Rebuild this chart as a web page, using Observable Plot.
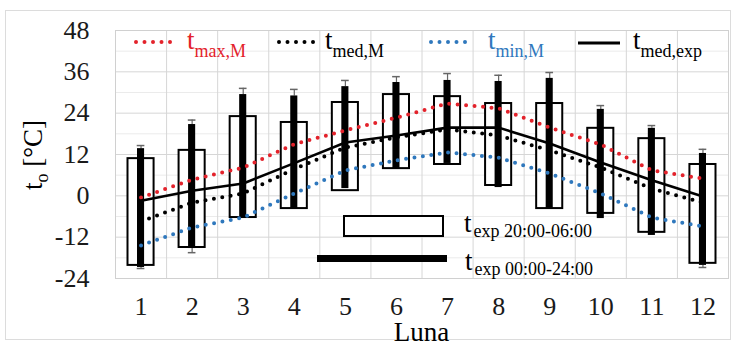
<!DOCTYPE html>
<html><head><meta charset="utf-8">
<script src="https://cdn.jsdelivr.net/npm/d3@7"></script>
<script src="https://cdn.jsdelivr.net/npm/@observablehq/plot@0.6"></script>
<style>
body{margin:0;background:#fff;}
#wrap{position:relative;width:735px;height:347px;font-family:"Liberation Serif","Times New Roman",serif;overflow:hidden;background:#fff;}
#border{position:absolute;left:5px;top:10px;width:726px;height:330px;border:1px solid #dcdcdc;box-sizing:border-box;}
.lbl{position:absolute;white-space:nowrap;line-height:1;font-size:27px;color:#000;}
.lbl sub{font-size:18px;vertical-align:baseline;position:relative;}
#chart{position:absolute;left:0;top:0;}
#chart svg, #chart svg text{font-family:"Liberation Serif","Times New Roman",serif !important;}
#leg{position:absolute;left:0;top:0;}
</style></head><body>
<div id="wrap"><div id="border"></div><div id="chart"></div></div>
<script>
// ---- data ----
const months = [1,2,3,4,5,6,7,8,9,10,11,12];
// t_exp 20:00-06:00 (white floating bars)
const nightMin = [-20.2,-15,-6.3,-3.7,1.5,7.9,9.1,3,-3.7,-5.1,-10.6,-19.6];
const nightMax = [10.8,13.2,23,21.3,27.1,29.4,28.8,26.8,26.8,19.6,16.6,9.1];
// t_exp 00:00-24:00 (black floating bars)
const dayMin = [-20.8,-15.3,-6.3,-3.7,2.1,7.9,9.4,2.4,-3.7,-6.6,-11.5,-20.2];
const dayMax = [13.7,20.7,29.4,29,31.7,32.9,33.5,33.2,34.1,25.1,19.6,12.3];
// error bar ends
const errHi = [14.6,22,31.2,30.9,33.5,34.6,35.5,35,35.8,26.2,20.4,13.5];
const errLo = [-21.1,-16.5,null,null,null,null,null,null,null,null,null,-20.8];
// lines
const tMaxM  = [-0.5,4.7,8.2,15,19,22.7,26.8,25.4,19.8,14.9,7.4,5];
const tMedM  = [-7.4,-2,0.7,7.8,14,17,19.3,17.5,13.2,8.2,2.1,-2];
const tMinM  = [-14.4,-9.2,-6.3,0.7,7.4,10.3,12.6,11.1,6.5,0.7,-6.3,-8.9];
const tMedExp= [-1.4,1.5,3.6,9.5,15.5,17.5,19.8,19.8,15.2,9.7,4.5,-0.2];
// ticks
const yTicks = [-24,-12,0,12,24,36,48];
const yMinor = [-18,-6,6,18,30,42];

const rows = months.map((m,i)=>({m, nMin:nightMin[i], nMax:nightMax[i], dMin:dayMin[i], dMax:dayMax[i],
  eHi:errHi[i], eLo:errLo[i], tmax:tMaxM[i], tmed:tMedM[i], tmin:tMinM[i], texp:tMedExp[i]}));
const xBounds = months.map(m=>m-0.5).concat([months[months.length-1]+0.5]);

const RED="#e3222b", BLUE="#2f78bd";
const dotted = {strokeWidth:4, strokeDasharray:"0,8.5", strokeLinecap:"round"};
const SERIF = "'Liberation Serif','Times New Roman',serif";

const chart = Plot.plot({
  width:735, height:347,
  marginLeft:115, marginRight:7, marginTop:30, marginBottom:69,
  style:{fontFamily:SERIF, fontSize:"26px", color:"#1a1a1a", background:"transparent"},
  x:{domain:[0.5,12.5], ticks:months, tickSize:0, tickPadding:18, label:null, tickFormat:d=>String(d)},
  y:{domain:[-24,48], ticks:yTicks, tickSize:0, tickPadding:26, label:null, tickFormat:d=>String(d)},
  marks:[
    Plot.gridY(yMinor,{stroke:"#ebebeb", strokeOpacity:1}),
    Plot.gridY(yTicks,{stroke:"#d6d6d6", strokeOpacity:1}),
    Plot.gridX(xBounds,{stroke:"#d6d6d6", strokeOpacity:1}),
    Plot.frame({stroke:"#d0d0d0"}),
    Plot.rectY(rows,{x1:d=>d.m-0.5, x2:d=>d.m+0.5, y1:"nMin", y2:"nMax", fill:"white", stroke:"black", strokeWidth:2, insetLeft:12.5, insetRight:12.5}),
    Plot.ruleX(rows,{x:"m", y1:"dMax", y2:"eHi", stroke:"#666", strokeWidth:1.2}),
    Plot.ruleY(rows,{y:"eHi", x1:d=>d.m-0.075, x2:d=>d.m+0.075, stroke:"#666", strokeWidth:1.5}),
    Plot.ruleX(rows.filter(d=>d.eLo!=null),{x:"m", y1:"dMin", y2:"eLo", stroke:"#666", strokeWidth:1.2}),
    Plot.ruleY(rows.filter(d=>d.eLo!=null),{y:"eLo", x1:d=>d.m-0.075, x2:d=>d.m+0.075, stroke:"#666", strokeWidth:1.5}),
    Plot.rectY(rows,{x1:d=>d.m-0.5, x2:d=>d.m+0.5, y1:"dMin", y2:"dMax", fill:"black", insetLeft:22, insetRight:22}),
    Plot.line(rows,{x:"m", y:"tmax", stroke:RED, ...dotted}),
    Plot.line(rows,{x:"m", y:"tmed", stroke:"black", ...dotted}),
    Plot.line(rows,{x:"m", y:"tmin", stroke:BLUE, ...dotted}),
    Plot.line(rows,{x:"m", y:"texp", stroke:"black", strokeWidth:2.6})
  ]
});
chart.querySelectorAll("text").forEach(t=>t.setAttribute("font-family",SERIF));
document.getElementById("chart").appendChild(chart);

// ---- legend / titles overlay ----
const wrap = document.getElementById("wrap");
const NS="http://www.w3.org/2000/svg";
const leg = document.createElementNS(NS,"svg");
leg.setAttribute("id","leg"); leg.setAttribute("width",735); leg.setAttribute("height",347);
function el(tag, attrs){const e=document.createElementNS(NS,tag); for(const k in attrs) e.setAttribute(k,attrs[k]); leg.appendChild(e); return e;}
const dl = {"stroke-width":4,"stroke-dasharray":"0,8.5","stroke-linecap":"round"};
el("line",{x1:136,x2:175,y1:42,y2:42,stroke:RED,...dl});
el("line",{x1:279,x2:318,y1:42,y2:42,stroke:"black",...dl});
el("line",{x1:431,x2:470,y1:42,y2:42,stroke:BLUE,...dl});
el("line",{x1:578,x2:620,y1:43,y2:43,stroke:"black","stroke-width":3});
el("rect",{x:344,y:216,width:99,height:20,fill:"white",stroke:"black","stroke-width":2});
el("rect",{x:317,y:255,width:130,height:7,fill:"black"});
wrap.appendChild(leg);

function label(html, left, baseline, color){
  const d=document.createElement("div"); d.className="lbl"; d.innerHTML=html;
  d.style.left=left+"px"; d.style.top=(baseline-22.6)+"px"; if(color) d.style.color=color;
  wrap.appendChild(d); return d;
}
label('t<sub style="top:8px">max,M</sub>',187,50,RED);
label('t<sub style="top:8px">med,M</sub>',325,50);
label('t<sub style="top:8px">min,M</sub>',488,50,BLUE);
label('t<sub style="top:8px">med,exp</sub>',633,50);
label('t<sub style="top:5px;margin-left:2px">exp 20:00-06:00</sub>',464,233);
label('t<sub style="top:5px;margin-left:2px">exp 00:00-24:00</sub>',465,271);
const lx = label('Luna',0,342); lx.style.left="421.5px"; lx.style.transform="translateX(-50%)";
const yl=document.createElement("div"); yl.className="lbl";
yl.innerHTML='t<sub style="top:6px">o</sub> [°C]';
yl.style.left="33px"; yl.style.top="155px"; yl.style.transform="translate(-50%,-50%) rotate(-90deg)";
wrap.appendChild(yl);
</script>
</body></html>
